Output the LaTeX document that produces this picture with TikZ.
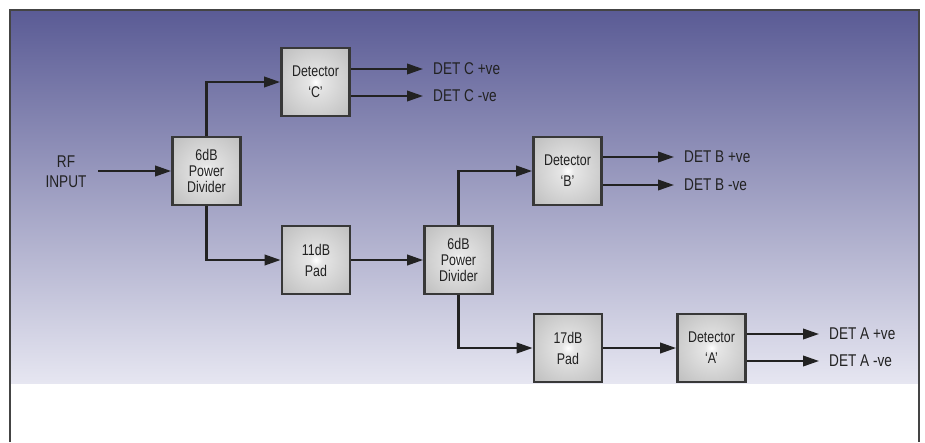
\documentclass[tikz,border=0pt]{standalone}
\usepackage{fontspec}
\setmainfont{Liberation Sans}[FakeStretch=0.8]
\usetikzlibrary{arrows.meta}
\definecolor{bgtop}{HTML}{5A5B95}
\definecolor{bgbot}{HTML}{E6E6F1}
\definecolor{ink}{HTML}{222222}
\definecolor{frame}{HTML}{444444}
\pgfdeclareradialshading{boxshade}{\pgfpoint{0bp}{0bp}}{color(0bp)=(white); color(5bp)=(white!90!black); color(50bp)=(black!33); color(71bp)=(black!46)}
\tikzset{
  blk/.style={draw=ink!90, line width=2.8pt, shading=boxshade, minimum width=68pt, minimum height=68pt, inner sep=0pt, align=center, text=ink},
  two/.style={font=\fontsize{15.5}{21}\selectfont},
  three/.style={font=\fontsize{15.5}{16}\selectfont},
  arr/.style={draw=ink, line width=2.2pt, -{Triangle[length=16pt,width=10.5pt]}},
  lbl/.style={anchor=west, inner xsep=10pt, inner ysep=0pt, text=ink, font=\fontsize{17}{18}\selectfont},
}
\begin{document}
\begin{tikzpicture}[x=1pt,y=-1pt]
\useasboundingbox (0,0) rectangle (925,442);
\fill[white] (0,0) rectangle (925,442);
\shade[top color=bgtop, bottom color=bgbot] (10,10) rectangle (919,383);
\draw[frame, line width=1.6pt] (10,442) -- (10,10) -- (919,10) -- (919,442);

\node[align=center, text=ink, font=\fontsize{17}{20}\selectfont] (rf) at (66,172) {RF\\INPUT};
\coordinate (rfout) at (98,171);

\node[blk,three] (pd1) at (206.5,171) {6dB\\Power\\Divider};
\node[blk,two] (detC) at (315.5,82) {Detector\\`C'};
\node[blk,two] (pad11) at (316,260) {11dB\\Pad};
\node[blk,three] (pd2) at (458.5,260) {6dB\\Power\\Divider};
\node[blk,two] (detB) at (567.5,171) {Detector\\`B'};
\node[blk,two] (pad17) at (568,348) {17dB\\Pad};
\node[blk,two] (detA) at (711.5,348) {Detector\\`A'};

\node[lbl] (cP) at (423,69) {DET C +ve};
\node[lbl] (cM) at (423,96) {DET C -ve};
\node[lbl] (bP) at (674,157) {DET B +ve};
\node[lbl] (bM) at (674,185) {DET B -ve};
\node[lbl] (aP) at (819,334) {DET A +ve};
\node[lbl] (aM) at (819,361) {DET A -ve};

\draw[arr] (rfout) -- (pd1.west);
\draw[arr] (pd1.north) |- (detC.west);
\draw[arr] (pd1.south) |- (pad11.west);
\draw[arr] (pad11.east) -- (pd2.west);
\draw[arr] (pd2.north) |- (detB.west);
\draw[arr] (pd2.south) |- (pad17.west);
\draw[arr] (pad17.east) -- (detA.west);

\draw[arr] (detC.east |- cP) -- (cP.west);
\draw[arr] (detC.east |- cM) -- (cM.west);
\draw[arr] (detB.east |- bP) -- (bP.west);
\draw[arr] (detB.east |- bM) -- (bM.west);
\draw[arr] (detA.east |- aP) -- (aP.west);
\draw[arr] (detA.east |- aM) -- (aM.west);
\end{tikzpicture}
\end{document}
